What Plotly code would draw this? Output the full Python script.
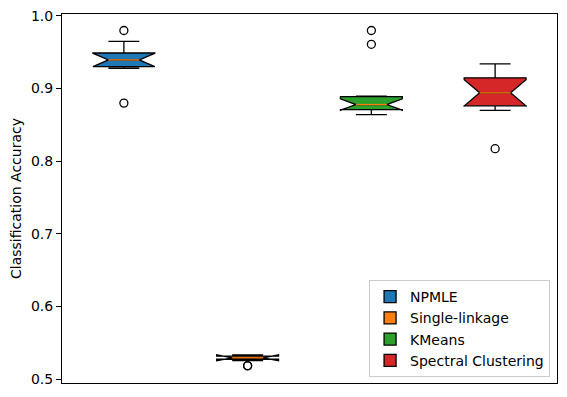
import plotly.graph_objects as go

methods = ["NPMLE", "Single-linkage", "KMeans", "Spectral Clustering"]
colors = ["#1f77b4", "#ff7f0e", "#2ca02c", "#d62728"]
positions = [1, 2, 3, 4]
q1 = [0.9303, 0.5272, 0.8710, 0.8763]
median = [0.9395, 0.5292, 0.8780, 0.8941]
q3 = [0.9490, 0.5314, 0.8890, 0.9148]
lowerfence = [0.9280, 0.5268, 0.8640, 0.8700]
upperfence = [0.9650, 0.5318, 0.8895, 0.9340]
notchspan = [0.0092, 0.0040, 0.0078, 0.0180]
fliers = [[0.980, 0.880], [0.518, 0.5185], [0.980, 0.961], [0.8172]]

fig = go.Figure()
for i, m in enumerate(methods):
    fig.add_trace(go.Box(
        x=[positions[i]], q1=[q1[i]], median=[median[i]], q3=[q3[i]],
        lowerfence=[lowerfence[i]], upperfence=[upperfence[i]],
        notchspan=[notchspan[i]], notched=True, notchwidth=0.25,
        width=0.5, whiskerwidth=0.5, name=m,
        fillcolor=colors[i], line=dict(color="black", width=1.3),
        boxpoints=False, showlegend=True,
    ))
for i, m in enumerate(methods):
    fig.add_trace(go.Scatter(
        x=[positions[i] - 0.125, positions[i] + 0.125], y=[median[i], median[i]],
        mode="lines", line=dict(color="#ff7f0e", width=1.3),
        showlegend=False, hoverinfo="skip",
    ))
    fig.add_trace(go.Scatter(
        x=[positions[i]] * len(fliers[i]), y=fliers[i], mode="markers",
        marker=dict(symbol="circle-open", color="black", size=8, line=dict(width=1.3)),
        showlegend=False, hoverinfo="skip",
    ))

fig.update_layout(
    width=567, height=397,
    margin=dict(l=62, r=10, t=14, b=14),
    paper_bgcolor="white", plot_bgcolor="white",
    boxmode="overlay",
    font=dict(family="DejaVu Sans", size=14, color="black"),
    legend=dict(
        x=0.986, y=0.016, xanchor="right", yanchor="bottom",
        bordercolor="#cccccc", borderwidth=1, bgcolor="rgba(255,255,255,0.8)",
        font=dict(size=14), tracegroupgap=0,
    ),
)
fig.update_xaxes(
    range=[0.5, 4.5], showticklabels=False, ticks="", showgrid=False,
    zeroline=False, showline=True, linecolor="black", linewidth=1, mirror=True,
)
fig.update_yaxes(
    range=[0.4945, 1.0027], tickvals=[0.5, 0.6, 0.7, 0.8, 0.9, 1.0],
    tickformat=".1f", ticks="outside", ticklen=5, tickcolor="black",
    showgrid=False, zeroline=False, showline=True, linecolor="black",
    linewidth=1, mirror=True, automargin=False, ticklabeloverflow="allow",
    title=dict(text="Classification Accuracy", standoff=6, font=dict(size=14)),
)
fig.write_html("out.html", config={"displayModeBar": False},
               post_script="document.body.style.margin='0';document.body.style.padding='0';")
